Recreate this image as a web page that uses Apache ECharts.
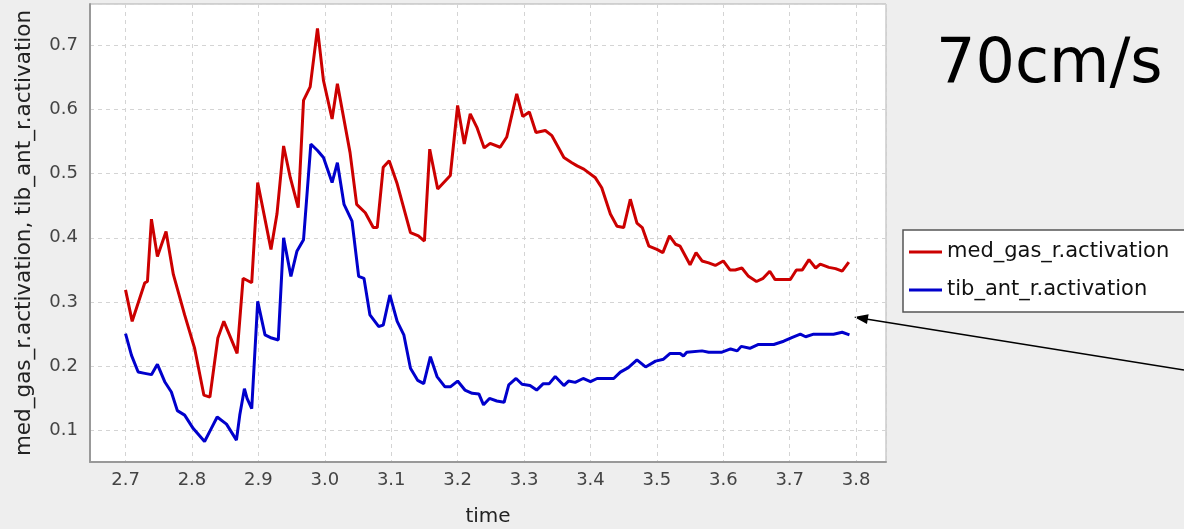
<!DOCTYPE html>
<html>
<head>
<meta charset="utf-8">
<title>70cm/s activation</title>
<script src="https://cdn.jsdelivr.net/npm/echarts@6/dist/echarts.min.js"></script>
<style>
    html, body { margin: 0; padding: 0; background: #eeeeee; }
    #chart { width: 1184px; height: 529px; }
</style>
</head>
<body>
<div id="chart"></div>
<script>
// values (time in s, activation 0..1)
var medGasTime = [2.700, 2.710, 2.729, 2.733, 2.739, 2.748, 2.761, 2.772, 2.789, 2.804, 2.818, 2.827,
    2.839, 2.848, 2.868, 2.877, 2.890, 2.899, 2.919, 2.928, 2.938, 2.948, 2.960, 2.968, 2.978, 2.989,
    2.998, 3.011, 3.019, 3.038, 3.048, 3.061, 3.073, 3.079, 3.088, 3.097, 3.109, 3.129, 3.141, 3.150,
    3.158, 3.170, 3.189, 3.200, 3.210, 3.219, 3.229, 3.240, 3.249, 3.264, 3.274, 3.289, 3.298, 3.308,
    3.318, 3.332, 3.342, 3.360, 3.372, 3.380, 3.390, 3.407, 3.417, 3.430, 3.440, 3.450, 3.460, 3.470,
    3.478, 3.488, 3.500, 3.509, 3.519, 3.528, 3.535, 3.550, 3.559, 3.568, 3.578, 3.588, 3.600, 3.610,
    3.618, 3.628, 3.638, 3.650, 3.660, 3.670, 3.678, 3.701, 3.710, 3.719, 3.729, 3.739, 3.746, 3.759,
    3.769, 3.779, 3.789];
var medGasValue = [0.319, 0.270, 0.330, 0.332, 0.429, 0.371, 0.410, 0.343, 0.280, 0.228, 0.155, 0.152,
    0.244, 0.270, 0.220, 0.337, 0.330, 0.486, 0.382, 0.437, 0.543, 0.494, 0.447, 0.614, 0.635, 0.726,
    0.645, 0.585, 0.640, 0.533, 0.452, 0.439, 0.416, 0.416, 0.510, 0.520, 0.484, 0.408, 0.403, 0.395,
    0.538, 0.476, 0.497, 0.606, 0.546, 0.593, 0.572, 0.540, 0.547, 0.541, 0.557, 0.624, 0.589, 0.596,
    0.564, 0.567, 0.559, 0.525, 0.517, 0.512, 0.507, 0.494, 0.478, 0.437, 0.418, 0.416, 0.460, 0.423,
    0.416, 0.387, 0.382, 0.377, 0.403, 0.390, 0.387, 0.358, 0.377, 0.364, 0.361, 0.357, 0.364, 0.350,
    0.350, 0.353, 0.340, 0.332, 0.337, 0.348, 0.335, 0.335, 0.350, 0.350, 0.366, 0.353, 0.359, 0.354,
    0.352, 0.348, 0.362];

var tibAntTime = [2.700, 2.709, 2.719, 2.729, 2.739, 2.748, 2.759, 2.769, 2.778, 2.789, 2.802, 2.819,
    2.829, 2.838, 2.852, 2.867, 2.872, 2.879, 2.883, 2.890, 2.899, 2.910, 2.920, 2.930, 2.938, 2.949,
    2.958, 2.968, 2.979, 2.989, 2.998, 3.011, 3.019, 3.029, 3.041, 3.051, 3.059, 3.068, 3.081, 3.088,
    3.098, 3.109, 3.119, 3.129, 3.140, 3.149, 3.159, 3.169, 3.181, 3.189, 3.200, 3.211, 3.222, 3.232,
    3.239, 3.248, 3.259, 3.270, 3.277, 3.288, 3.297, 3.309, 3.319, 3.329, 3.338, 3.347, 3.360, 3.367,
    3.377, 3.389, 3.400, 3.410, 3.435, 3.445, 3.457, 3.470, 3.483, 3.498, 3.510, 3.520, 3.535, 3.540,
    3.545, 3.568, 3.578, 3.598, 3.611, 3.621, 3.627, 3.640, 3.653, 3.676, 3.691, 3.704, 3.716, 3.724,
    3.736, 3.766, 3.779, 3.790];
var tibAntValue = [0.251, 0.217, 0.191, 0.189, 0.187, 0.203, 0.176, 0.160, 0.131, 0.124, 0.103, 0.083,
    0.103, 0.121, 0.110, 0.085, 0.124, 0.165, 0.150, 0.134, 0.301, 0.249, 0.244, 0.241, 0.400, 0.340,
    0.379, 0.397, 0.546, 0.536, 0.525, 0.486, 0.517, 0.452, 0.426, 0.340, 0.337, 0.280, 0.262, 0.264,
    0.311, 0.270, 0.249, 0.197, 0.178, 0.173, 0.215, 0.184, 0.168, 0.168, 0.177, 0.163, 0.158, 0.157,
    0.140, 0.150, 0.146, 0.144, 0.171, 0.181, 0.172, 0.170, 0.163, 0.173, 0.173, 0.184, 0.170, 0.177,
    0.175, 0.181, 0.176, 0.181, 0.181, 0.191, 0.198, 0.210, 0.199, 0.208, 0.211, 0.220, 0.220, 0.216,
    0.222, 0.224, 0.222, 0.222, 0.227, 0.224, 0.231, 0.228, 0.234, 0.234, 0.239, 0.245, 0.250, 0.246,
    0.250, 0.250, 0.253, 0.249];

var seriesNames = ['med_gas_r.activation', 'tib_ant_r.activation'];
var seriesColors = ['#cc0000', '#0000cc'];
var xName = 'time';
var yName = 'med_gas_r.activation, tib_ant_r.activation';
var titleText = '70cm/s';

var chartPage = {
    $chart: null,

    init: function () {
        this.$chart = echarts.init(document.getElementById('chart'), null, {renderer: 'canvas'});
        this.$chart.setOption(this.buildOption());
    },

    pairs: function (xs, ys) {
        var out = [];
        for (var i = 0; i < xs.length; i++) {
            out.push([xs[i], ys[i]]);
        }
        return out;
    },

    lineSeries: function (name, color, data) {
        return {
            name: name,
            type: 'line',
            data: data,
            showSymbol: false,
            symbol: 'none',
            animation: false,
            lineStyle: {color: color, width: 3},
            itemStyle: {color: color}
        };
    },

    buildOption: function () {
        var font = 'DejaVu Sans';
        var gridLine = {show: true, lineStyle: {color: '#d4d4d4', width: 1, type: [4, 4]}};
        var oneDecimal = function (v) { return v.toFixed(1); };

        return {
            backgroundColor: '#eeeeee',
            animation: false,
            title: {
                text: titleText,
                left: 931,
                top: 30,
                textStyle: {fontFamily: font, fontSize: 62, fontWeight: 'normal', color: '#000'}
            },
            legend: {
                data: seriesNames,
                orient: 'vertical',
                left: 903,
                top: 230,
                padding: [10, 16, 10, 6],
                itemGap: 14,
                itemWidth: 33,
                itemHeight: 3,
                icon: 'rect',
                backgroundColor: '#ffffff',
                borderColor: '#555555',
                borderWidth: 1.5,
                borderRadius: 0,
                textStyle: {fontFamily: font, fontSize: 21, color: '#111', lineHeight: 24}
            },
            grid: {
                left: 90,
                right: 298,
                top: 4,
                bottom: 67,
                containLabel: false,
                outerBoundsMode: 'none',
                show: true,
                backgroundColor: '#ffffff',
                borderColor: '#b0b0b0',
                borderWidth: 1
            },
            xAxis: {
                type: 'value',
                min: 2.6465,
                max: 3.845,
                splitNumber: 12,
                name: xName,
                nameLocation: 'middle',
                nameGap: 45,
                nameTextStyle: {fontFamily: font, fontSize: 20, color: '#222'},
                axisLine: {show: true, onZero: false, lineStyle: {color: '#999999', width: 2}},
                axisTick: {show: false},
                axisLabel: {
                    fontFamily: font, fontSize: 18, color: '#444', margin: 9,
                    showMinLabel: false, showMaxLabel: false, formatter: oneDecimal
                },
                splitLine: gridLine
            },
            yAxis: {
                type: 'value',
                min: 0.051,
                max: 0.764,
                splitNumber: 7,
                name: yName,
                nameLocation: 'middle',
                nameRotate: 90,
                nameGap: 55,
                nameTextStyle: {fontFamily: font, fontSize: 21.5, color: '#222'},
                axisLine: {show: true, onZero: false, lineStyle: {color: '#999999', width: 2}},
                axisTick: {show: false},
                axisLabel: {
                    fontFamily: font, fontSize: 18, color: '#444', margin: 12,
                    showMinLabel: false, showMaxLabel: false, formatter: oneDecimal
                },
                splitLine: gridLine
            },
            // pointer arrow from the right edge towards the blue curve end
            graphic: [
                {
                    type: 'line',
                    silent: true,
                    shape: {x1: 1184, y1: 370, x2: 866, y2: 319},
                    style: {stroke: '#000', lineWidth: 1.5}
                },
                {
                    type: 'polygon',
                    silent: true,
                    shape: {points: [[854, 317], [868.6, 314.3], [867.0, 324.1]]},
                    style: {fill: '#000'}
                }
            ],
            series: [
                this.lineSeries(seriesNames[0], seriesColors[0], this.pairs(medGasTime, medGasValue)),
                this.lineSeries(seriesNames[1], seriesColors[1], this.pairs(tibAntTime, tibAntValue))
            ]
        };
    }
};

chartPage.init();
</script>
</body>
</html>
